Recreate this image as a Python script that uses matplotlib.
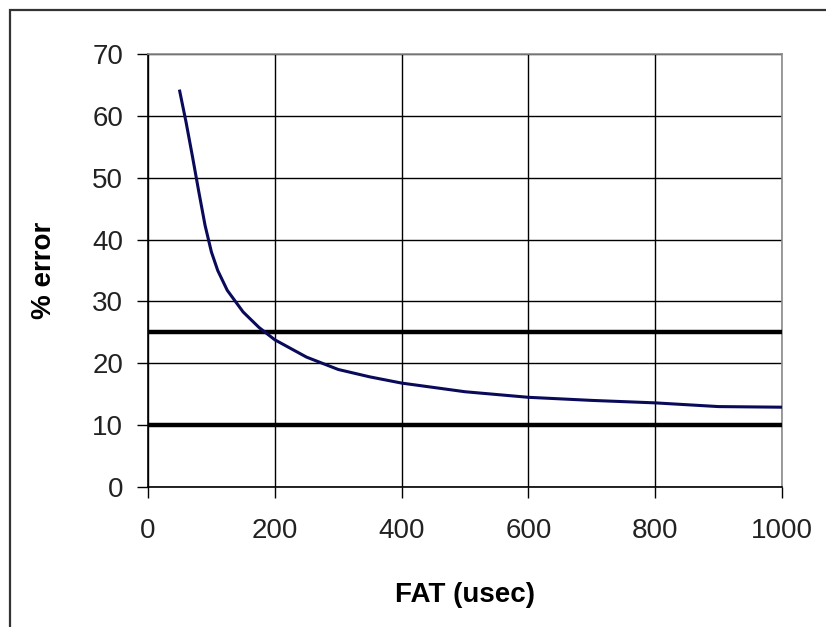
import matplotlib
matplotlib.use("Agg")
import matplotlib.pyplot as plt
from matplotlib.patches import Rectangle

# values
fat_usec = [50, 60, 70, 80, 90, 100, 110, 125, 150, 175, 200, 250, 300,
            350, 400, 500, 600, 700, 800, 900, 1000]
pct_error = [64, 59, 53.5, 47.8, 42.3, 38, 35, 31.8, 28.3, 25.8, 23.8, 21, 19,
             17.8, 16.8, 15.4, 14.5, 14.0, 13.6, 13.0, 12.9]
limit_levels = [25, 10]
x_ticks = [0, 200, 400, 600, 800, 1000]
y_ticks = [0, 10, 20, 30, 40, 50, 60, 70]

tick_font = ['Liberation Sans', 'DejaVu Sans']
label_font = ['Liberation Sans', 'DejaVu Sans']

fig = plt.figure(figsize=(8.26, 6.27), dpi=100)
ax = fig.add_axes([148 / 826, 1 - 487 / 627, 634 / 826, 433 / 627])

# outer chart border (only left and top visible in the reference)
fig.patches.append(Rectangle((10 / 826, -0.1), 1.2, 1 - 10 / 627 + 0.1,
                             transform=fig.transFigure, fill=False,
                             edgecolor='#333333', linewidth=1.6))

ax.plot(fat_usec, pct_error, color='#0a0a5a', linewidth=2.2, zorder=4)
for level in limit_levels:
    ax.plot([x_ticks[0], x_ticks[-1]], [level, level], color='black',
            linewidth=3.2, solid_capstyle='butt', zorder=3)

ax.set_xlim(0, 1000)
ax.set_ylim(0, 70)
ax.set_xticks(x_ticks)
ax.set_yticks(y_ticks)
ax.grid(True, color='black', linewidth=1.0)
ax.set_axisbelow(True)

for side in ['top', 'right']:
    ax.spines[side].set_color('#8c8c8c')
    ax.spines[side].set_linewidth(1.2)
for side in ['left', 'bottom']:
    ax.spines[side].set_color('black')
    ax.spines[side].set_linewidth(1.2)

ax.tick_params(direction='out', length=8, width=1.0, color='black', pad=10)
ax.tick_params(axis='x', pad=14)
for lbl in ax.get_xticklabels() + ax.get_yticklabels():
    lbl.set_family(tick_font)
    lbl.set_fontsize(20)
    lbl.set_color('#222222')

ax.set_xlabel('FAT (usec)', family=label_font, fontsize=20, fontweight='bold')
ax.set_ylabel('% error', family=label_font, fontsize=20, fontweight='bold')
ax.xaxis.set_label_coords(0.5, (487 - 582) / 433)
ax.yaxis.set_label_coords((57 - 148) / 634, 0.5)

fig.savefig('out.png', dpi=100)
